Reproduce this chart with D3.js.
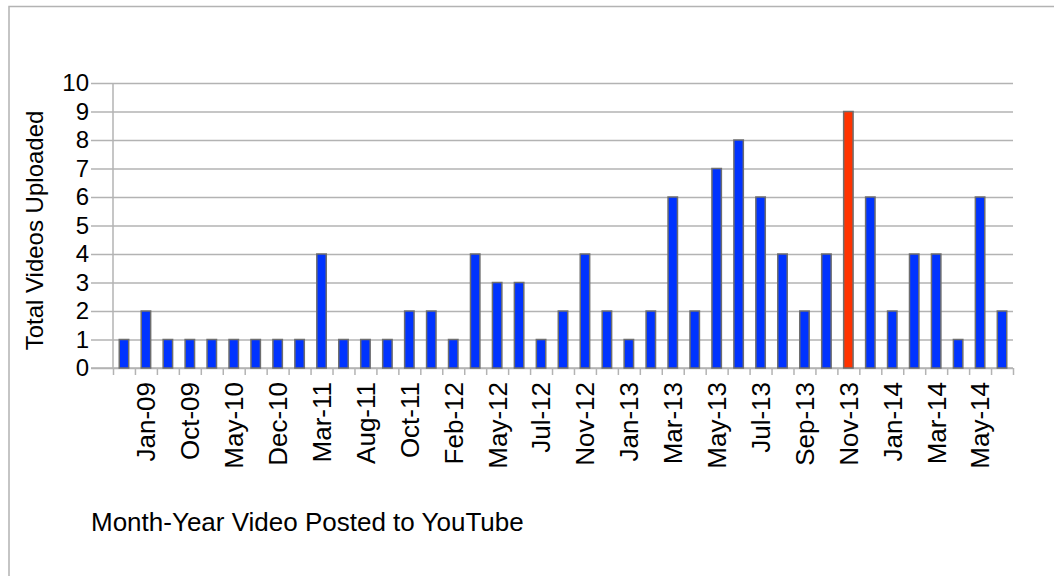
<!DOCTYPE html>
<html>
  <head>
    <meta charset="utf-8">
    <title>Total videos uploaded</title>
    <script src="https://cdn.jsdelivr.net/npm/d3@7/dist/d3.min.js"></script>
    <style>
      body { margin: 0; background: #fff; }
      svg { display: block; font-family: "Liberation Sans", Arial, sans-serif; }
      .axis path, .axis line { stroke: #b3b3b3; stroke-width: 1.5; }
      .axis text { fill: #000; font-size: 24px; }
      .xlabels text { font-size: 26px; }
    </style>
  </head>
  <body>
    <svg id="chart" width="1054" height="576"></svg>

    <script>
      // data
      months = [
        "Nov-08", "Jan-09", "Jun-09", "Oct-09", "Feb-10", "May-10", "Aug-10", "Dec-10",
        "Feb-11", "Mar-11", "Jun-11", "Aug-11", "Sep-11", "Oct-11", "Dec-11", "Feb-12",
        "Apr-12", "May-12", "Jun-12", "Jul-12", "Sep-12", "Nov-12", "Dec-12", "Jan-13",
        "Feb-13", "Mar-13", "Apr-13", "May-13", "Jun-13", "Jul-13", "Aug-13", "Sep-13",
        "Oct-13", "Nov-13", "Dec-13", "Jan-14", "Feb-14", "Mar-14", "Apr-14", "May-14",
        "Jun-14"
      ];
      uploads = [
        1, 2, 1, 1, 1, 1, 1, 1, 1, 4, 1, 1, 1, 2, 2, 1, 4, 3, 3, 1,
        2, 4, 2, 1, 2, 6, 2, 7, 8, 6, 4, 2, 4, 9, 6, 2, 4, 4, 1, 6, 2
      ];
      highlighted = ["Nov-13"];
      yTicks = [0, 1, 2, 3, 4, 5, 6, 7, 8, 9, 10];

      data = months.map(function(d, i) {
        return { month: d, count: uploads[i] };
      });

      svg = d3.select("#chart");
      margin = { top: 83, left: 113, right: 41, bottom: 208 };
      width = 1054 - margin.left - margin.right;
      height = 576 - margin.top - margin.bottom;

      // frame
      svg.append("rect")
        .attr("x", 9)
        .attr("y", 6.5)
        .attr("width", 1100)
        .attr("height", 700)
        .attr("fill", "none")
        .attr("stroke", "#b3b3b3")
        .attr("stroke-width", 1.5);

      g = svg.append("g")
        .attr("transform", "translate(" + margin.left + "," + margin.top + ")");

      x = d3.scaleBand()
        .domain(months)
        .range([0, width])
        .paddingInner(0.57)
        .paddingOuter(0.285);
      xPos = d3.scaleLinear()
        .domain([0, months.length])
        .range([0, width]);
      y = d3.scaleLinear()
        .domain([0, 10])
        .range([height, 0]);

      // y axis with gridlines
      yAxis = g.append("g")
        .attr("class", "axis")
        .call(d3.axisLeft(y).tickValues(yTicks).tickSize(0).tickPadding(24));
      yAxis.select(".domain").remove();
      yAxis.selectAll(".tick line")
        .attr("x1", -22)
        .attr("x2", width);
      g.append("line")
        .attr("x1", 0).attr("x2", 0)
        .attr("y1", 0).attr("y2", height)
        .attr("stroke", "#b3b3b3")
        .attr("stroke-width", 1.5);

      // x axis: boundary ticks
      xTicks = g.append("g")
        .attr("class", "axis")
        .attr("transform", "translate(0," + height + ")")
        .call(d3.axisBottom(xPos).tickValues(d3.range(months.length + 1)).tickSize(7).tickFormat(""));
      xTicks.select(".domain").remove();
      g.append("line")
        .attr("x1", -22).attr("x2", width)
        .attr("y1", height).attr("y2", height)
        .attr("stroke", "#b3b3b3")
        .attr("stroke-width", 1.5);

      // x axis: labels every other month
      xLabels = g.append("g")
        .attr("class", "axis xlabels")
        .attr("transform", "translate(0," + height + ")")
        .call(d3.axisBottom(x)
          .tickValues(months.filter(function(d, i) { return i % 2 == 1; }))
          .tickSize(0));
      xLabels.select(".domain").remove();
      xLabels.selectAll("text")
        .attr("transform", "rotate(-90)")
        .attr("text-anchor", "end")
        .attr("x", -14)
        .attr("y", 0)
        .attr("dy", "0.36em");

      // bars
      g.selectAll(".bar")
        .data(data)
        .enter().append("rect")
          .attr("class", "bar")
          .attr("x", function(d) { return x(d.month); })
          .attr("y", function(d) { return y(d.count); })
          .attr("width", x.bandwidth())
          .attr("height", function(d) { return height - y(d.count); })
          .attr("fill", function(d) {
            return highlighted.indexOf(d.month) >= 0 ? "#ff3300" : "#0033ff";
          })
          .attr("stroke", "#6e6e6e")
          .attr("stroke-width", 1.5);

      // axis titles
      svg.append("text")
        .attr("transform", "translate(43," + (margin.top + height / 2 + 5) + ") rotate(-90)")
        .attr("text-anchor", "middle")
        .style("font-size", "24px")
        .text("Total Videos Uploaded");
      svg.append("text")
        .attr("x", 91)
        .attr("y", 531)
        .style("font-size", "26px")
        .text("Month-Year Video Posted to YouTube");
    </script>
  </body>
</html>
